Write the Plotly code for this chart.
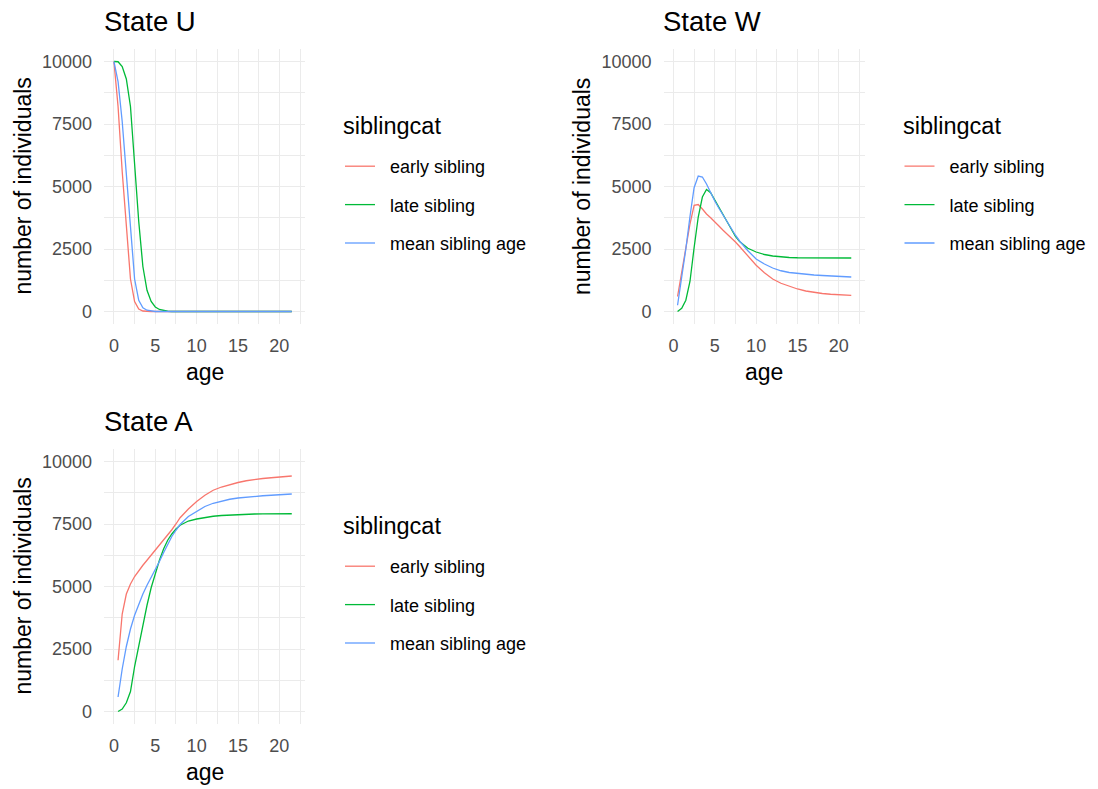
import plotly.graph_objects as go

# ---------------- data ----------------
ages_u = [0, 0.5, 1, 1.5, 2, 2.5, 3, 3.5, 4, 4.5, 5, 5.5, 6, 6.5, 7, 7.5, 8,
          9, 10, 11, 12, 13, 14, 15, 16, 17, 18, 19, 20, 21, 21.5]
ages_wa = ages_u[1:]

categories = ["early sibling", "late sibling", "mean sibling age"]
colors = ["#F8766D", "#00BA38", "#619CFF"]

# State U
u_early = [10000, 8200, 5600, 3300, 1300, 400, 100, 20, 0, 0, 0, 0, 0, 0, 0, 0, 0,
           0, 0, 0, 0, 0, 0, 0, 0, 0, 0, 0, 0, 0, 0]
u_late = [10000, 9990, 9800, 9300, 8200, 5900, 3600, 1800, 850, 400, 180, 80, 30, 10, 0, 0, 0,
          0, 0, 0, 0, 0, 0, 0, 0, 0, 0, 0, 0, 0, 0]
u_mean = [10000, 9200, 7600, 5400, 3100, 1300, 450, 150, 50, 15, 0, 0, 0, 0, 0, 0, 0,
          0, 0, 0, 0, 0, 0, 0, 0, 0, 0, 0, 0, 0, 0]

# State W
w_early = [600, 1600, 2600, 3500, 4250, 4280, 4100, 3900, 3750, 3600, 3420, 3250, 3100, 2950, 2780, 2600,
           2220, 1850, 1550, 1300, 1130, 1000, 900, 820, 760, 720, 690, 665, 650, 645]
w_late = [0, 130, 450, 1200, 2550, 3780, 4580, 4880, 4750, 4450, 4150, 3850, 3540, 3250, 3000, 2800,
          2530, 2380, 2280, 2220, 2180, 2160, 2150, 2145, 2140, 2140, 2140, 2140, 2140, 2140]
w_mean = [250, 1300, 2500, 3800, 4950, 5420, 5380, 5100, 4750, 4420, 4130, 3850, 3570, 3300, 3050, 2820,
          2430, 2100, 1900, 1740, 1630, 1560, 1520, 1490, 1460, 1440, 1420, 1400, 1385, 1380]

# State A
a_early = [2050, 3900, 4700, 5100, 5400, 5650, 5850, 6050, 6250, 6450, 6650, 6850, 7050, 7270, 7500, 7750,
           8100, 8400, 8650, 8850, 8980, 9080, 9160, 9230, 9290, 9320, 9350, 9380, 9410, 9420]
a_late = [0, 100, 350, 800, 1800, 2650, 3450, 4250, 4950, 5550, 6050, 6500, 6850, 7100, 7300, 7450,
          7620, 7700, 7760, 7810, 7840, 7860, 7880, 7890, 7900, 7905, 7910, 7910, 7910, 7910]
a_mean = [580, 1700, 2600, 3300, 3850, 4300, 4700, 5050, 5350, 5650, 6000, 6350, 6700, 7000, 7250, 7480,
          7800, 8000, 8200, 8330, 8420, 8490, 8540, 8580, 8610, 8630, 8650, 8670, 8690, 8700]

x_ticks = [0, 5, 10, 15, 20]
y_ticks = [0, 2500, 5000, 7500, 10000]
y_ticktext = ["0", "2500", "5000", "7500", "10000"]

# ---------------- figure ----------------
W, H = 1098, 789
FONT = "Liberation Sans, Arial, sans-serif"


def px(x):
    return x / W


def py(y):
    return 1 - y / H


panels = [
    # title, ages, series, axis suffix, legend id, left px, top px
    ("State U", ages_u, [u_early, u_late, u_mean], "", "legend", 104, 49),
    ("State W", ages_wa, [w_early, w_late, w_mean], "2", "legend2", 663.5, 49),
    ("State A", ages_wa, [a_early, a_late, a_mean], "3", "legend3", 104, 449),
]
PW, PH = 201, 275
NB = "\u00a0\u00a0"

fig = go.Figure()
layout = dict(
    width=W, height=H, autosize=False,
    margin=dict(l=0, r=0, t=0, b=0),
    paper_bgcolor="white", plot_bgcolor="white",
    font=dict(family=FONT, color="black"),
    showlegend=True,
)
annotations = []

for title, ages, series, sfx, leg, left, top in panels:
    for name, col, vals in zip(categories, colors, series):
        fig.add_trace(go.Scatter(
            x=ages, y=vals, mode="lines", name=NB + name,
            line=dict(color=col, width=1.3),
            xaxis="x" + sfx, yaxis="y" + sfx, legend=leg,
            legendgroup=leg + name,
        ))
    grid = dict(showgrid=True, gridcolor="#EBEBEB", gridwidth=1.1,
                zeroline=False, showline=False, ticks="",
                tickfont=dict(size=18, color="#4D4D4D", family=FONT))
    layout["xaxis" + sfx] = dict(
        domain=[px(left), px(left + PW)], range=[-1.2, 23.1],
        anchor="y" + sfx, tickvals=x_ticks, ticklabelstandoff=9,
        minor=dict(dtick=2.5, tick0=0, showgrid=True, gridcolor="#EBEBEB", gridwidth=0.55),
        **grid)
    layout["yaxis" + sfx] = dict(
        domain=[py(top + PH), py(top)], range=[-500, 10500],
        anchor="x" + sfx, tickvals=y_ticks, ticktext=y_ticktext, ticklabelstandoff=11,
        minor=dict(dtick=1250, tick0=0, showgrid=True, gridcolor="#EBEBEB", gridwidth=0.55),
        **grid)
    # panel title
    annotations.append(dict(text=title, x=px(left - 2), y=py(top - 28), xref="paper", yref="paper",
                            xanchor="left", yanchor="middle", showarrow=False,
                            font=dict(size=27.5, color="black", family=FONT)))
    # axis titles
    annotations.append(dict(text="number of individuals", x=px(left - 82), y=py(top + PH / 2),
                            xref="paper", yref="paper", xanchor="center", yanchor="middle",
                            textangle=-90, showarrow=False,
                            font=dict(size=23, color="black", family=FONT)))
    annotations.append(dict(text="age", x=px(left + PW / 2), y=py(top + 323), xref="paper", yref="paper",
                            xanchor="center", yanchor="middle", showarrow=False,
                            font=dict(size=23, color="black", family=FONT)))
    # legend title
    annotations.append(dict(text="siblingcat", x=px(left + 237), y=py(top + 77), xref="paper", yref="paper",
                            xanchor="left", yanchor="middle", showarrow=False,
                            font=dict(size=23.5, color="black", family=FONT)))
    # legend
    layout[leg] = dict(
        x=px(left + 236), y=py(top + 99), xanchor="left", yanchor="top",
        font=dict(size=18, color="black", family=FONT),
        bgcolor="rgba(0,0,0,0)", itemwidth=30,
        traceorder="grouped", tracegroupgap=12,
    )

layout["annotations"] = annotations
fig.update_layout(**layout)
fig.write_html("out.html")
